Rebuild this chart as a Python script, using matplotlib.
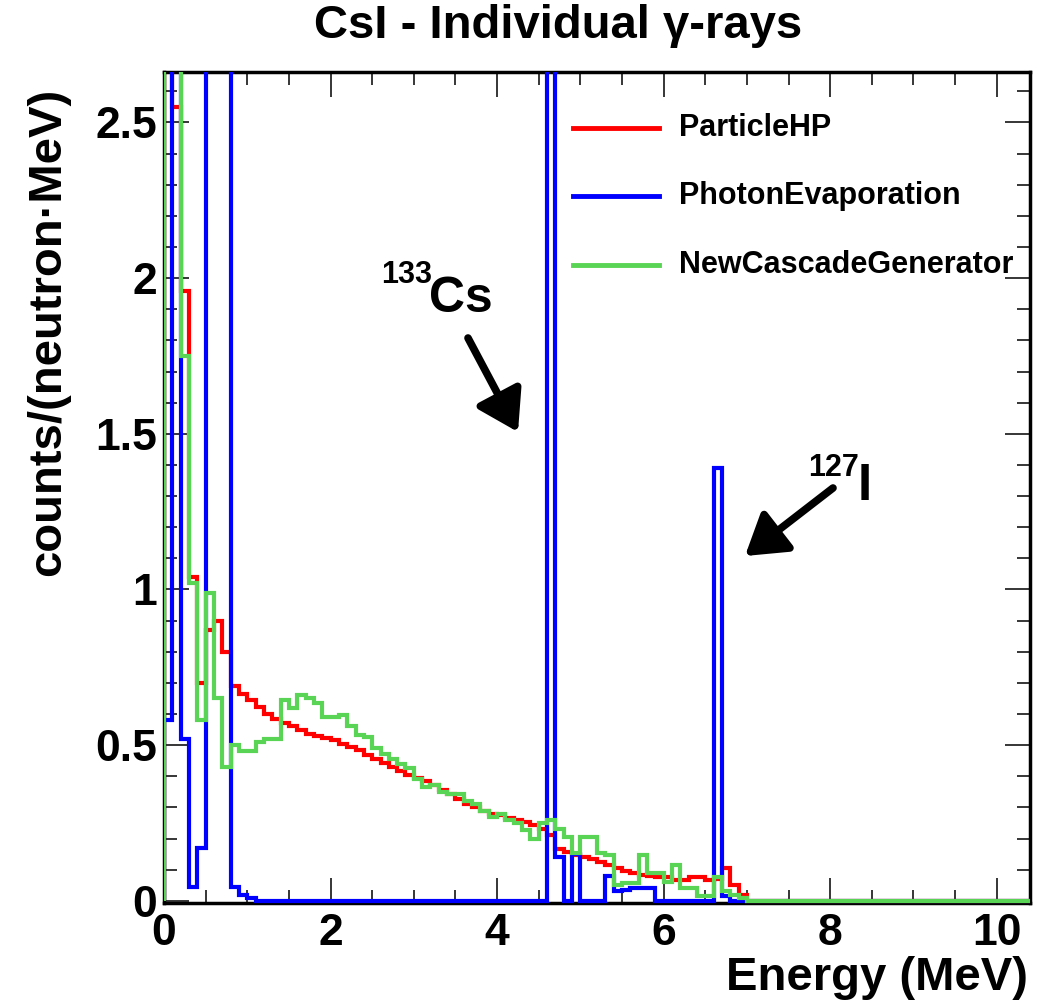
import numpy as np
import matplotlib
matplotlib.use("Agg")
import matplotlib.pyplot as plt
from matplotlib.lines import Line2D
from matplotlib.patches import Rectangle

plt.rcParams['font.family'] = ['Liberation Sans', 'DejaVu Sans']
plt.rcParams['font.weight'] = 'bold'

# ---------------- data (bin contents, 0.1 MeV bins starting at 0) ----------------
e_min, e_max, bin_width = 0.0, 10.4, 0.1

# values above the axis range (off-scale) are given as 3.2
particle_hp = [3.2, 2.55, 1.96, 1.04, 0.70, 0.87, 0.90, 0.80, 0.69, 0.665,
               0.645, 0.623, 0.60, 0.585, 0.57, 0.56, 0.548, 0.537, 0.53, 0.522,
               0.515, 0.505, 0.495, 0.485, 0.469, 0.455, 0.443, 0.43, 0.418, 0.405,
               0.393, 0.385, 0.373, 0.356, 0.344, 0.328, 0.31, 0.30, 0.29, 0.28,
               0.275, 0.265, 0.258, 0.252, 0.244, 0.232, 0.21, 0.168, 0.158, 0.148,
               0.14, 0.134, 0.125, 0.115, 0.104, 0.095, 0.09, 0.083, 0.08, 0.078,
               0.075, 0.068, 0.068, 0.078, 0.075, 0.068, 0.07, 0.104, 0.05, 0.02]

photon_evaporation = [0.58, 3.2, 0.52, 0.045, 0.17, 3.2, 3.2, 3.2, 0.045, 0.02,
                      0.008, 0, 0, 0, 0, 0, 0, 0, 0, 0,
                      0, 0, 0, 0, 0, 0, 0, 0, 0, 0,
                      0, 0, 0, 0, 0, 0, 0, 0, 0, 0,
                      0, 0, 0, 0, 0, 0, 3.2, 0.14, 0, 0.15,
                      0, 0, 0, 0.08, 0.03, 0.035, 0.04, 0.04, 0.04, 0,
                      0, 0, 0, 0, 0, 0, 1.39, 0.015, 0, 0]

new_cascade = [3.2, 3.2, 1.75, 1.02, 0.58, 0.99, 0.65, 0.43, 0.50, 0.48,
               0.48, 0.51, 0.52, 0.52, 0.645, 0.62, 0.66, 0.65, 0.634, 0.59,
               0.59, 0.597, 0.56, 0.533, 0.527, 0.49, 0.473, 0.457, 0.441, 0.425,
               0.39, 0.366, 0.372, 0.35, 0.344, 0.344, 0.32, 0.31, 0.29, 0.27,
               0.28, 0.26, 0.25, 0.228, 0.20, 0.25, 0.26, 0.232, 0.205, 0.152,
               0.205, 0.205, 0.152, 0.147, 0.05, 0.056, 0.056, 0.147, 0.088, 0.088,
               0.06, 0.115, 0.04, 0.04, 0.016, 0.016, 0.077, 0.03, 0.02, 0.01]

series_names = ["ParticleHP", "PhotonEvaporation", "NewCascadeGenerator"]
series_colors = ["#ff0000", "#0000ff", "#59d454"]

x_ticks = [0, 2, 4, 6, 8, 10]
x_tick_labels = ["0", "2", "4", "6", "8", "10"]
y_ticks = [0, 0.5, 1, 1.5, 2, 2.5]
y_tick_labels = ["0", "0.5", "1", "1.5", "2", "2.5"]

title = "CsI - Individual \u03b3-rays"
x_label = "Energy (MeV)"
y_label = "counts/(neutron\u00b7MeV)"

# ---------------- figure ----------------
W, H = 1040, 1001
fig = plt.figure(figsize=(W / 100, H / 100), dpi=100)
ax = fig.add_axes([164 / W, 1 - 903 / H, (1030 - 164) / W, (903 - 72) / H])

n_bins = int(round((e_max - e_min) / bin_width))
edges = np.linspace(e_min, e_max, n_bins + 1)


def full(vals):
    arr = np.zeros(n_bins)
    arr[:len(vals)] = vals
    return arr


clip_rect = Rectangle((0, -0.02), 1, 1.02, transform=ax.transAxes)
for vals, col in zip([particle_hp, photon_evaporation, new_cascade], series_colors):
    sp = ax.stairs(full(vals), edges, color=col, linewidth=3.0, baseline=0, zorder=3)
    sp.set_clip_path(clip_rect)

ax.set_xlim(e_min, e_max)
ax.set_ylim(-0.007, 2.662)

ax.set_xticks(x_ticks)
ax.set_xticklabels(x_tick_labels)
ax.set_yticks(y_ticks)
ax.set_yticklabels(y_tick_labels)
ax.set_xticks(np.arange(0, 10.41, 0.5), minor=True)
ax.set_yticks(np.arange(0, 2.66, 0.1), minor=True)

ax.tick_params(which='both', direction='in', top=True, right=True, width=1.1, color='black')
ax.tick_params(which='major', length=18)
ax.tick_params(which='minor', length=9.5)
ax.tick_params(axis='x', which='major', labelsize=32, pad=7)
ax.tick_params(axis='y', which='major', labelsize=32, pad=5)
for lab in ax.get_xticklabels() + ax.get_yticklabels():
    lab.set_fontweight('bold')

for s in ax.spines.values():
    s.set_linewidth(2.5)
    s.set_zorder(2.5)

# title and axis labels
fig.text(558 / W, 1 - 38 / H, title, ha='center', va='baseline', fontsize=34, fontweight='bold')
fig.text(1028 / W, 1 - 990 / H, x_label, ha='right', va='baseline', fontsize=34, fontweight='bold')
fig.text(48 / W, 1 - 88 / H, y_label, rotation=90, ha='center', va='top', fontsize=34, fontweight='bold')

# legend (manual, ROOT style)
leg_y = [128, 196, 265]
for name, col, yy in zip(series_names, series_colors, leg_y):
    fig.add_artist(Line2D([573 / W, 659 / W], [1 - yy / H, 1 - yy / H],
                          transform=fig.transFigure, color=col, linewidth=3.5))
    fig.text(679 / W, 1 - yy / H, name, ha='left', va='center', fontsize=22, fontweight='bold')

# annotations
fig.text(381 / W, 1 - 283 / H, "133", ha='left', va='baseline', fontsize=22, fontweight='bold')
fig.text(429 / W, 1 - 312 / H, "Cs", ha='left', va='baseline', fontsize=36, fontweight='bold')
fig.text(808 / W, 1 - 476 / H, "127", ha='left', va='baseline', fontsize=22, fontweight='bold')
fig.text(858 / W, 1 - 500 / H, "I", ha='left', va='baseline', fontsize=37, fontweight='bold')

arrow_style = dict(arrowstyle='-|>,head_length=0.6,head_width=0.38', lw=5.5, color='black',
                   mutation_scale=40, shrinkA=0, shrinkB=0)
ax.annotate('', xy=(518, H - 432), xytext=(468, H - 338), xycoords='figure pixels',
            textcoords='figure pixels', arrowprops=arrow_style)
ax.annotate('', xy=(745, H - 556), xytext=(833, H - 488), xycoords='figure pixels',
            textcoords='figure pixels', arrowprops=arrow_style)

fig.savefig("out.png", dpi=100)
